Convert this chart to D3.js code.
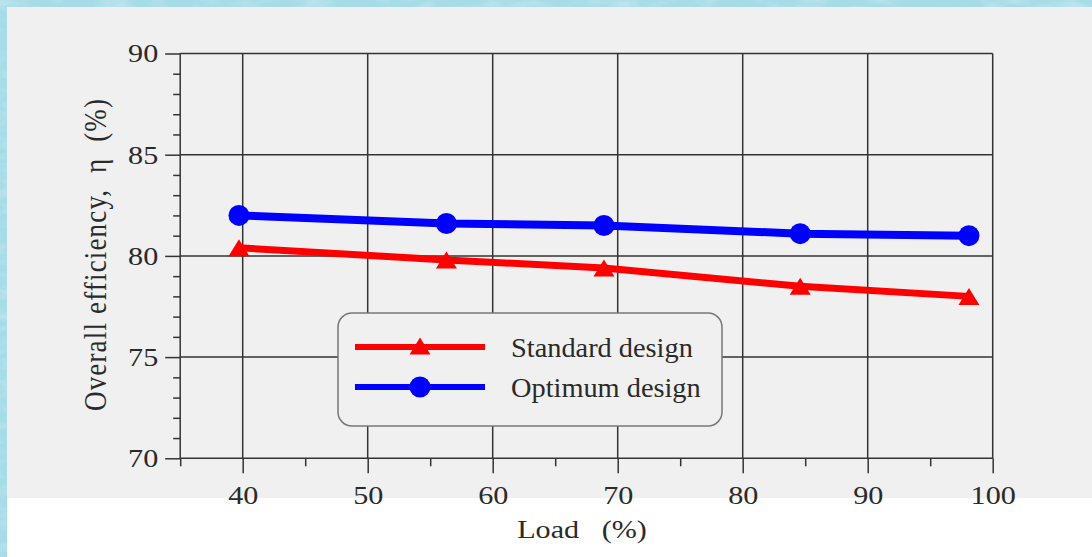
<!DOCTYPE html>
<html>
<head>
<meta charset="utf-8">
<script src="https://cdn.jsdelivr.net/npm/d3@7"></script>
<style>
  body { margin: 0; background: #a9dde9; overflow: hidden; }
  text { font-family: "Liberation Serif", "Times New Roman", serif; fill: #2a2a2a; }
</style>
</head>
<body>
<script>
var loads = [39.7, 56.3, 68.9, 84.6, 98.1];
var standard = [80.4, 79.8, 79.4, 78.5, 78.0];
var optimum = [82.0, 81.6, 81.5, 81.1, 81.0];
var seriesNames = ["Standard design", "Optimum design"];
var xMajor = [40, 50, 60, 70, 80, 90, 100];
var xMinor = [35, 45, 55, 65, 75, 85, 95];
var yMajor = [70, 75, 80, 85, 90];
var yMinor = [71, 72, 73, 74, 76, 77, 78, 79, 81, 82, 83, 84, 86, 87, 88, 89];

var svgWidth = 1092, svgHeight = 557;
var sx = 1.16; // the picture is a bit wider than tall

var svg = d3.select("body").append("svg")
  .attr("width", svgWidth)
  .attr("height", svgHeight);

// textured blue frame
var defs = svg.append("defs");
var f = defs.append("filter").attr("id", "tex")
  .attr("x", 0).attr("y", 0).attr("width", "100%").attr("height", "100%");
f.append("feTurbulence").attr("type", "fractalNoise")
  .attr("baseFrequency", "0.03 0.09").attr("numOctaves", 3).attr("seed", 4);
f.append("feColorMatrix").attr("type", "matrix")
  .attr("values", "0 0 0 0 1  0 0 0 0 1  0 0 0 0 1  1.1 0 0 0 -0.45");

svg.append("rect").attr("width", svgWidth).attr("height", svgHeight).attr("fill", "#a6dbe8");
svg.append("rect").attr("width", svgWidth).attr("height", svgHeight)
  .attr("filter", "url(#tex)").attr("opacity", 0.55);

svg.append("rect").attr("x", 7).attr("y", 7)
  .attr("width", svgWidth - 7).attr("height", 491).attr("fill", "#f0f0f0");
svg.append("rect").attr("x", 7).attr("y", 498)
  .attr("width", svgWidth - 7).attr("height", svgHeight - 498).attr("fill", "#ffffff");

var x = d3.scaleLinear().domain([35, 100]).range([180.2, 992.7]);
var y = d3.scaleLinear().domain([70, 90]).range([458.3, 53.5]);

var gridColor = "#333";

function stretch(sel) {
  sel.each(function() {
    var t = d3.select(this);
    var px = +t.attr("x") || 0;
    t.attr("x", 0).attr("transform", "translate(" + px + ",0) scale(" + sx + ",1)");
  });
}

// grid
var grid = svg.append("g").attr("stroke", gridColor).attr("stroke-width", 1.5);
grid.selectAll(".v").data(xMajor).enter().append("line")
  .attr("x1", d => x(d)).attr("x2", d => x(d))
  .attr("y1", y(90)).attr("y2", y(70));
grid.selectAll(".h").data(yMajor).enter().append("line")
  .attr("x1", x(35)).attr("x2", x(100))
  .attr("y1", d => y(d)).attr("y2", d => y(d));
grid.append("line")
  .attr("x1", x(35)).attr("x2", x(35)).attr("y1", y(90)).attr("y2", y(70));

// minor ticks
svg.append("g").attr("transform", "translate(0," + y(70) + ")")
  .call(d3.axisBottom(x).tickValues(xMinor).tickSize(8).tickFormat(""))
  .call(g => g.select(".domain").remove())
  .selectAll("line").attr("stroke", gridColor).attr("stroke-width", 1.5);
svg.append("g").attr("transform", "translate(" + x(35) + ",0)")
  .call(d3.axisLeft(y).tickValues(yMinor).tickSize(7).tickFormat(""))
  .call(g => g.select(".domain").remove())
  .selectAll("line").attr("stroke", gridColor).attr("stroke-width", 1.5);

// major ticks and labels
var xAxis = svg.append("g").attr("transform", "translate(0," + y(70) + ")")
  .call(d3.axisBottom(x).tickValues(xMajor).tickSize(15).tickPadding(12).tickSizeOuter(0))
  .call(g => g.select(".domain").remove());
xAxis.selectAll("line").attr("stroke", gridColor).attr("stroke-width", 1.5);
xAxis.selectAll("text").attr("font-size", 26).attr("font-family", null).attr("fill", "#2a2a2a").call(stretch);

var yAxis = svg.append("g").attr("transform", "translate(" + x(35) + ",0)")
  .call(d3.axisLeft(y).tickValues(yMajor).tickSize(15).tickPadding(7).tickSizeOuter(0))
  .call(g => g.select(".domain").remove());
yAxis.selectAll("line").attr("stroke", gridColor).attr("stroke-width", 1.5);
yAxis.selectAll("text").attr("font-size", 26).attr("font-family", null).attr("fill", "#2a2a2a").call(stretch);

// axis titles
svg.append("text")
  .attr("transform", "translate(" + 582 + ",538) scale(" + sx + ",1)")
  .attr("text-anchor", "middle").attr("font-size", 26)
  .style("white-space", "pre")
  .text("Load   (%)");

svg.append("text")
  .attr("transform", "translate(106,255) rotate(-90) scale(1," + sx + ")")
  .attr("text-anchor", "middle").attr("font-size", 27)
  .attr("textLength", 312).attr("lengthAdjust", "spacing")
  .style("white-space", "pre")
  .text("Overall efficiency,  η  (%)");

// series
var colors = ["#ff0000", "#0000ff"];
var values = [standard, optimum];

function triangle(cx, cy) {
  return "M" + (cx - 10.5) + "," + (cy + 8.5) + "L" + cx + "," + (cy - 8.5) + "L" + (cx + 10.5) + "," + (cy + 8.5) + "Z";
}

var line = d3.line().x(d => x(d[0])).y(d => y(d[1]));
values.forEach(function(vals, i) {
  var pts = loads.map((l, j) => [l, vals[j]]);
  svg.append("path").datum(pts)
    .attr("d", line).attr("fill", "none")
    .attr("stroke", colors[i]).attr("stroke-width", i === 0 ? 7 : 8)
    .attr("stroke-linejoin", "round");
  if (i === 0) {
    svg.selectAll(".tri").data(pts).enter().append("path")
      .attr("class", "tri")
      .attr("d", d => triangle(x(d[0]), y(d[1])))
      .attr("fill", colors[i]);
  } else {
    svg.selectAll(".dot").data(pts).enter().append("circle")
      .attr("class", "dot")
      .attr("cx", d => x(d[0])).attr("cy", d => y(d[1]))
      .attr("r", 10.5).attr("fill", colors[i]);
  }
});

// legend
var legend = svg.append("g");
legend.append("rect")
  .attr("x", 338).attr("y", 313).attr("width", 384).attr("height", 113)
  .attr("rx", 14).attr("fill", "#f0f0f0")
  .attr("stroke", "#777").attr("stroke-width", 1.5);
seriesNames.forEach(function(name, i) {
  var ly = 347 + i * 40;
  legend.append("line")
    .attr("x1", 355).attr("x2", 485).attr("y1", ly).attr("y2", ly)
    .attr("stroke", colors[i]).attr("stroke-width", 6);
  if (i === 0) {
    legend.append("path").attr("d", triangle(420, ly - 1)).attr("fill", colors[i]);
  } else {
    legend.append("circle").attr("cx", 420).attr("cy", ly).attr("r", 10.5).attr("fill", colors[i]);
  }
  legend.append("text")
    .attr("transform", "translate(511," + (ly + 10) + ") scale(1.05,1)")
    .attr("font-size", 27)
    .text(name);
});
</script>
</body>
</html>
